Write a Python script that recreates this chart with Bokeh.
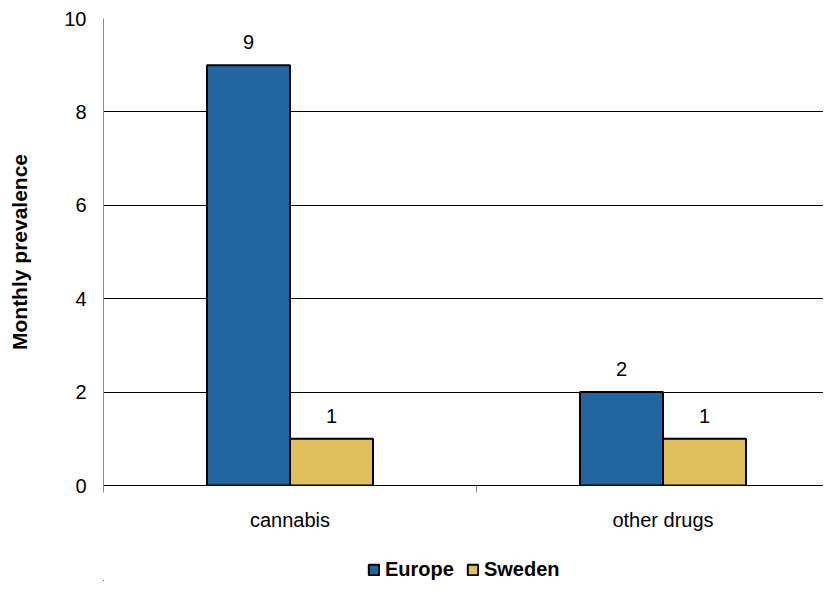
import numpy as np
from bokeh.plotting import figure
from bokeh.layouts import column
from bokeh.models import (ColumnDataSource, Range1d, FixedTicker, LabelSet,
                          Legend, LegendItem)
from bokeh.core.properties import value
from bokeh.embed import file_html
from bokeh.resources import INLINE

categories = ["cannabis", "other drugs"]
series = ["Europe", "Sweden"]
europe = [9, 2]
sweden = [1, 1]
y_ticks = [0, 2, 4, 6, 8, 10]
colors = ["#2166A0", "#E0C05A"]

FONT = "Liberation Sans"
idx = np.arange(len(categories))
centers = idx + 0.5
bw = 0.2225

p = figure(width=823, height=545, output_backend="svg", toolbar_location=None,
           x_range=Range1d(0, 720 / 373), y_range=Range1d(0, 10),
           min_border_left=103, min_border_right=0, min_border_top=18,
           min_border_bottom=60)
p.outline_line_color = None
p.xgrid.grid_line_color = None
p.ygrid.grid_line_color = "black"
p.ygrid.grid_line_width = 1
p.ygrid.ticker = FixedTicker(ticks=y_ticks)

src_e = ColumnDataSource(dict(x=centers - bw / 2, top=europe,
                              lab=[str(v) for v in europe]))
src_s = ColumnDataSource(dict(x=centers + bw / 2, top=sweden,
                              lab=[str(v) for v in sweden]))
sources = [src_e, src_s]
for src, col in zip(sources, colors):
    p.vbar(x="x", top="top", width=bw, source=src, fill_color=col,
           line_color="black", line_width=2)
    p.add_layout(LabelSet(x="x", y="top", text="lab", source=src,
                          text_align="center", text_baseline="bottom",
                          y_offset=16, text_font=value(FONT),
                          text_font_size="20px", text_color="black"))

# y axis
ya = p.yaxis[0]
ya.ticker = FixedTicker(ticks=y_ticks)
ya.major_tick_out = 0
ya.major_tick_in = 0
ya.minor_tick_out = 0
ya.minor_tick_in = 0
ya.axis_line_color = "#8c8c8c"
ya.major_label_text_font = FONT
ya.major_label_text_font_size = "20px"
ya.major_label_text_color = "black"
ya.major_label_standoff = 17
ya.axis_label = "Monthly prevalence"
ya.axis_label_text_font = FONT
ya.axis_label_text_font_size = "21px"
ya.axis_label_text_font_style = "bold"
ya.axis_label_text_color = "black"
ya.axis_label_standoff = 30

# x axis
xa = p.xaxis[0]
xa.ticker = FixedTicker(ticks=list(centers), minor_ticks=list(idx) + [len(categories)])
xa.major_label_overrides = {float(c): n for c, n in zip(centers, categories)}
xa.major_tick_line_color = None
xa.minor_tick_out = 7
xa.minor_tick_in = 0
xa.minor_tick_line_color = "#8c8c8c"
xa.axis_line_color = "black"
xa.major_label_text_font = FONT
xa.major_label_text_font_size = "20px"
xa.major_label_text_color = "black"
xa.major_label_standoff = 16

# legend strip (bars from the same sources, kept out of this strip's view)
q = figure(width=823, height=36, output_backend="svg", toolbar_location=None,
           x_range=Range1d(100, 101), y_range=Range1d(100, 101),
           x_axis_location=None, y_axis_location=None,
           min_border_left=0, min_border_right=0, min_border_top=0,
           min_border_bottom=0)
q.outline_line_color = None
q.xgrid.grid_line_color = None
q.ygrid.grid_line_color = None
items = []
for name, src, col in zip(series, sources, colors):
    r = q.vbar(x="x", top="top", width=bw, source=src, fill_color=col,
               line_color="black", line_width=2)
    items.append(LegendItem(label=name, renderers=[r], index=0))
legend = Legend(items=items, orientation="horizontal", location=(264, 0),
                padding=0, margin=0, spacing=12, label_standoff=5,
                glyph_width=13, glyph_height=13,
                label_text_font=FONT, label_text_font_size="20px",
                label_text_font_style="bold", label_text_color="black",
                border_line_color=None, background_fill_alpha=0)
q.add_layout(legend, "center")

open("out.html", "w").write(file_html(column(p, q, spacing=0), INLINE))
